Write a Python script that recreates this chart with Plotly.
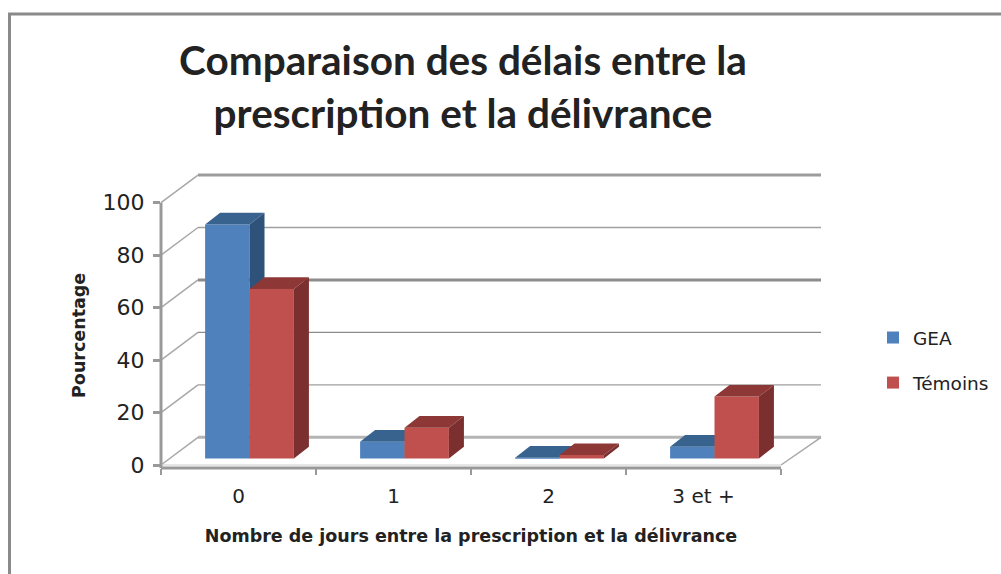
import plotly.graph_objects as go

categories = ["0", "1", "2", "3 et +"]
gea = [89.2, 6.4, 0.3, 4.5]
temoins = [64.6, 11.7, 1.3, 23.6]
y_ticks = [0, 20, 40, 60, 80, 100]
grid_widths = [3, 1.4, 1.4, 3, 1.4, 3]
grid_colors = ["#b4b4b4", "#a0a0a0", "#8c8c8c", "#8c8c8c", "#a0a0a0", "#9c9c9c"]

W, H = 1001, 574
# front plane of the chart box: carries the ticks and the axis titles
X_RANGE = [-0.5, 3.5]
Y_RANGE = [-1.145, 100]
DOMAIN_X = [161 / W, 781 / W]
DOMAIN_Y = [1 - 468 / H, 1 - 202.7 / H]
# wider drawing area, same scale as the front plane, so that the depth is not clipped
PX_PER_X, PX_PER_Y = 155.0, 2.623
WIDE_X = [X_RANGE[0] - 11 / PX_PER_X, X_RANGE[1] + 50 / PX_PER_X]
WIDE_Y = [Y_RANGE[0] - 8 / PX_PER_Y, Y_RANGE[1] + 36 / PX_PER_Y]
WIDE_DOMAIN_X = [150 / W, 831 / W]
WIDE_DOMAIN_Y = [1 - 476 / H, 1 - 166.7 / H]

WALL_DX, WALL_DX_R, WALL_DY = 0.2387, 0.258, 10.55  # depth of the floor/walls
BAR_DX, BAR_DY = 0.0968, 4.46      # depth of a bar
FRONT_DX, FRONT_DY = 0.0710, 2.48  # bars stand inside the floor
BAR_W = 0.2865

BLUE, BLUE_TOP, BLUE_SIDE = "#4f81bd", "#39638f", "#2e527a"
RED, RED_TOP, RED_SIDE = "#c0504d", "#8d3836", "#7b2f2e"
AXIS = "#999999"
FONT = "Lato"
TEXT = "#222222"

fig = go.Figure()


def line(xs, ys, color, width):
    fig.add_trace(go.Scatter(x=xs, y=ys, mode="lines", showlegend=False, hoverinfo="skip",
                             line=dict(color=color, width=width), xaxis="x", yaxis="y"))


x0, xend = X_RANGE
# back wall gridlines and left wall diagonals
for v, w, c in zip(y_ticks, grid_widths, grid_colors):
    line([x0 + WALL_DX, xend + WALL_DX_R], [v + WALL_DY, v + WALL_DY], c, w)
    line([x0, x0 + WALL_DX], [v, v + WALL_DY], "#a8a8a8", 1.5)
# floor edges
line([xend, xend + WALL_DX_R], [0, WALL_DY], "#a8a8a8", 1.5)
line([x0, xend], [0, 0], "#e6e6e6", 2)
# axis lines
line([x0, x0], [Y_RANGE[0], 100], AXIS, 3)
line([x0, xend], [Y_RANGE[0], Y_RANGE[0]], AXIS, 3)


def add_series(name, values, side, front, top_c, side_c, axes):
    lefts = [i + FRONT_DX + side * BAR_W for i in range(len(values))]
    fig.add_trace(go.Bar(name=name, x=[l + BAR_W / 2 for l in lefts], y=values,
                         base=[FRONT_DY] * len(values), width=BAR_W,
                         marker=dict(color=front, line=dict(width=0)),
                         legendgroup=name, xaxis=axes[0], yaxis=axes[1]))
    for l, v in zip(lefts, values):
        yb, yt = FRONT_DY, FRONT_DY + v
        r = l + BAR_W
        # top face
        fig.add_trace(go.Scatter(x=[l, l + BAR_DX, r + BAR_DX, r, l],
                                 y=[yt, yt + BAR_DY, yt + BAR_DY, yt, yt],
                                 mode="lines", fill="toself", fillcolor=top_c, line=dict(width=0),
                                 showlegend=False, hoverinfo="skip", xaxis=axes[0], yaxis=axes[1]))
        # side face
        fig.add_trace(go.Scatter(x=[r, r + BAR_DX, r + BAR_DX, r, r],
                                 y=[yt, yt + BAR_DY, yb + BAR_DY, yb, yt],
                                 mode="lines", fill="toself", fillcolor=side_c, line=dict(width=0),
                                 showlegend=False, hoverinfo="skip", xaxis=axes[0], yaxis=axes[1]))


add_series("GEA", gea, -1, BLUE, BLUE_TOP, BLUE_SIDE, ("x2", "y2"))
add_series("Témoins", temoins, 0, RED, RED_TOP, RED_SIDE, ("x3", "y3"))

# carrier for the visible axes
fig.add_trace(go.Scatter(x=[0], y=[0], mode="none", showlegend=False, hoverinfo="skip",
                         xaxis="x4", yaxis="y4"))

wide_x = dict(range=WIDE_X, domain=WIDE_DOMAIN_X, visible=False, fixedrange=True)
wide_y = dict(range=WIDE_Y, domain=WIDE_DOMAIN_Y, visible=False, fixedrange=True)

fig.update_layout(
    width=W, height=H, margin=dict(l=0, r=0, t=0, b=0, autoexpand=False),
    paper_bgcolor="white", plot_bgcolor="rgba(0,0,0,0)",
    barmode="overlay",
    font=dict(family=FONT, color=TEXT),
    title=dict(text="Comparaison des délais entre la<br>prescription et la délivrance",
               x=463 / W, xanchor="center", y=1 - 75 / H, yanchor="top",
               font=dict(family=FONT, size=40.5, weight="bold", color=TEXT)),
    xaxis=wide_x, yaxis=wide_y,
    xaxis2={**wide_x, "overlaying": "x"}, yaxis2={**wide_y, "overlaying": "y"},
    xaxis3={**wide_x, "overlaying": "x"}, yaxis3={**wide_y, "overlaying": "y"},
    xaxis4=dict(range=X_RANGE, domain=DOMAIN_X, anchor="y4", tickmode="array", tickvals=[0, 1, 2, 3],
                ticktext=categories, ticks="", showgrid=False, zeroline=False, showline=False,
                ticklabelstandoff=14, tickfont=dict(family="DejaVu Sans", size=20, color=TEXT),
                fixedrange=True,
                minor=dict(tickmode="array", tickvals=[-0.5, 0.5, 1.5, 2.5, 3.5], ticks="outside",
                           ticklen=6, tickwidth=2, tickcolor=AXIS, showgrid=False),
                title=dict(text="<b>Nombre de jours entre la prescription et la délivrance</b>",
                           standoff=22, font=dict(family="DejaVu Sans", size=17.5, color=TEXT))),
    yaxis4=dict(range=Y_RANGE, domain=DOMAIN_Y, anchor="x4", tickmode="array", tickvals=y_ticks,
                ticks="outside", ticklen=7, tickwidth=3, tickcolor=AXIS, showgrid=False,
                zeroline=False, showline=False,
                tickfont=dict(family="DejaVu Sans", size=22, color=TEXT), ticklabelstandoff=4,
                fixedrange=True,
                title=dict(text="<b>Pourcentage</b>", standoff=12,
                           font=dict(family="DejaVu Sans", size=17.5, color=TEXT))),
    legend=dict(x=873 / W, y=1 - 319 / H, xanchor="left", yanchor="top", tracegroupgap=18,
                bgcolor="rgba(0,0,0,0)", font=dict(family="DejaVu Sans", size=18.5, color=TEXT)),
    shapes=[dict(type="path", xref="paper", yref="paper",
                 path=f"M {9.5 / W} 0 L {9.5 / W} {1 - 14 / H} L 1 {1 - 14 / H}",
                 line=dict(color="#8a8a8a", width=3))],
)

fig.write_html("out.html", config={"displayModeBar": False},
               post_script="document.body.style.margin='0';document.body.style.overflow='hidden';")
